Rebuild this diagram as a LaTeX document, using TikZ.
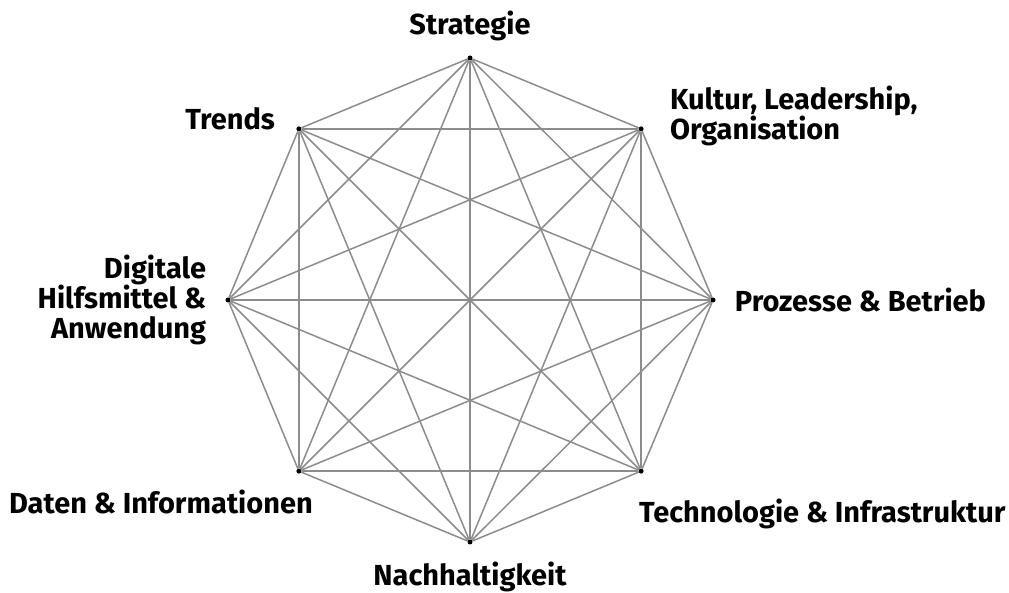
\documentclass[tikz,border=0pt]{standalone}
\usepackage{fontspec}
\setmainfont{Fira Sans}
\usetikzlibrary{positioning}

\tikzstyle{corner} = [circle, fill=black, inner sep=0pt, minimum size=5pt]
\tikzstyle{tag} = [font=\fontsize{29}{30}\selectfont\bfseries, inner sep=0pt]
\tikzstyle{line} = [draw, black!45, line width=1.5pt]

\begin{document}
\begin{tikzpicture}[x=1pt, y=1pt]
  \useasboundingbox (-470,-293) rectangle (539,300);

  \node[corner] (strat)    at (90:242)  {};
  \node[corner] (kultur)   at (45:242)  {};
  \node[corner] (prozess)  at (0:243)   {};
  \node[corner] (techno)   at (-45:242) {};
  \node[corner] (nachhalt) at (-90:242) {};
  \node[corner] (daten)    at (-135:242) {};
  \node[corner] (digital)  at (180:242) {};
  \node[corner] (trends)   at (135:242) {};

  \node[tag, above=14pt of strat] (stratlbl) {Strategie};
  \node[tag, right=26pt of kultur, yshift=13pt, align=left] (kulturlbl) {Kultur, Leadership,\\Organisation};
  \node[tag, right=19pt of prozess] (prozesslbl) {Prozesse \& Betrieb};
  \node[tag, below right=26pt and -4pt of techno] (technolbl) {Technologie \& Infrastruktur};
  \node[tag, below=17pt of nachhalt] (nachhaltlbl) {Nachhaltigkeit};
  \node[tag, below left=17pt and -16pt of daten] (datenlbl) {Daten \& Informationen};
  \node[tag, left=19pt of digital, align=right] (digitallbl) {Digitale\\Hilfsmittel \&\\Anwendung};
  \node[tag, left=21pt of trends, yshift=10pt] (trendslbl) {Trends};

  \foreach \a [count=\i] in {strat,kultur,prozess,techno,nachhalt,daten,digital,trends}
    \foreach \b [count=\j] in {strat,kultur,prozess,techno,nachhalt,daten,digital,trends}
      {\ifnum\j>\i \path[line] (\a) -- (\b); \fi}

\end{tikzpicture}
\end{document}
